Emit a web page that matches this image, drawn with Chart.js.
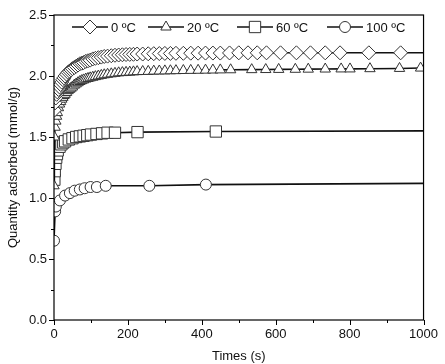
<!DOCTYPE html>
<html>
<head>
<meta charset="utf-8">
<script src="https://cdn.jsdelivr.net/npm/chart.js@4"></script>
<style>
  html, body { margin: 0; padding: 0; background: #fff; }
  #wrap { width: 445px; height: 364px; }
</style>
</head>
<body>
<div id="wrap"><canvas id="chart" width="445" height="364"></canvas></div>
<script>
// times (s) and quantity adsorbed (mmol/g)
var t0 = [1,3,5,7,9,12,15,18,21,24,27,30,34,38,42,46,50,55,60,65,70,75,80,86,92,98,105,112,120,128,136,145,155,165,175,185,195,205,215,225,240,255,270,285,300,315,330,350,370,390,410,430,450,475,500,525,550,575,613,656,694,734,774,852,938,1000];
var q0 = [1.72,1.78,1.82,1.85,1.87,1.89,1.91,1.93,1.95,1.97,1.985,2.00,2.015,2.03,2.04,2.05,2.06,2.07,2.08,2.09,2.10,2.105,2.11,2.12,2.125,2.13,2.14,2.145,2.15,2.155,2.16,2.163,2.166,2.17,2.172,2.174,2.176,2.177,2.178,2.18,2.18,2.182,2.183,2.184,2.185,2.185,2.186,2.186,2.187,2.187,2.188,2.188,2.188,2.189,2.19,2.19,2.19,2.19,2.19,2.19,2.19,2.19,2.19,2.19,2.19,2.19];

var t20 = [0,1,3,5,7,9,12,15,18,21,24,27,30,34,38,42,46,50,55,60,65,70,75,80,86,92,98,105,112,120,128,136,145,155,165,175,185,195,205,215,225,240,255,270,285,300,315,330,350,370,390,410,430,450,478,535,573,608,653,688,734,777,801,855,935,992];
var q20 = [1.10,1.50,1.58,1.63,1.67,1.70,1.74,1.77,1.79,1.81,1.825,1.84,1.85,1.865,1.88,1.89,1.90,1.91,1.925,1.935,1.945,1.955,1.962,1.968,1.975,1.98,1.985,1.99,1.995,2.00,2.005,2.01,2.014,2.018,2.022,2.026,2.028,2.03,2.032,2.034,2.036,2.037,2.038,2.04,2.041,2.042,2.043,2.044,2.045,2.046,2.047,2.048,2.049,2.05,2.051,2.052,2.053,2.054,2.055,2.056,2.057,2.058,2.058,2.06,2.062,2.065];

var t60 = [1,2,4,6,8,10,15,20,25,30,40,50,60,70,80,90,100,115,130,145,165,226,438,1000];
var q60 = [1.15,1.22,1.28,1.33,1.36,1.39,1.42,1.44,1.455,1.465,1.48,1.49,1.50,1.505,1.51,1.515,1.52,1.525,1.53,1.535,1.535,1.54,1.545,1.55];

var t100 = [0,3,5,16,30,43,56,70,83,99,116,140,258,411,1000];
var q100 = [0.65,0.89,0.93,0.98,1.02,1.04,1.06,1.07,1.08,1.09,1.09,1.10,1.10,1.11,1.12];

var seriesNames = ["0 \u00baC", "20 \u00baC", "60 \u00baC", "100 \u00baC"];
var seriesStyles = ["rectRot", "triangle", "rect", "circle"];
var seriesRadius = [7, 6, 8, 5.5];

var xTicks = [0, 200, 400, 600, 800, 1000];
var yTicks = [0.0, 0.5, 1.0, 1.5, 2.0, 2.5];

var FONT = '"Liberation Sans", Arial, sans-serif';

function pts(t, q) {
  return t.map(function (v, i) { return {x: v, y: q[i]}; });
}

function makeSet(i, t, q) {
  var r = seriesRadius[i];
  return {
    label: seriesNames[i],
    data: pts(t, q),
    borderColor: '#111',
    borderWidth: 1.6,
    pointStyle: seriesStyles[i],
    pointBackgroundColor: '#fff',
    pointBorderColor: '#333',
    pointBorderWidth: 1,
    // last sample at 1000 s has no marker for the curves that stop short
    pointRadius: function (ctx) {
      if (i !== 1 && ctx.dataIndex === t.length - 1) return 0;
      return r;
    },
    tension: 0
  };
}

var frameAndTicks = {
  id: 'frameAndTicks',
  afterDraw: function (chart) {
    var c = chart.ctx, a = chart.chartArea;
    var xs = chart.scales.x, ys = chart.scales.y;
    c.save();
    c.strokeStyle = '#000';
    c.lineWidth = 1.2;
    c.strokeRect(a.left, a.top, a.right - a.left, a.bottom - a.top);
    c.lineWidth = 1;
    c.beginPath();
    for (var v = 0; v <= 1000; v += 100) {
      var px = Math.round(xs.getPixelForValue(v)) + 0.5;
      var len = (v % 200 === 0) ? 5 : 3;
      c.moveTo(px, a.bottom);
      c.lineTo(px, a.bottom + len);
    }
    for (var w = 0; w <= 2.5001; w += 0.25) {
      var py = Math.round(ys.getPixelForValue(w)) + 0.5;
      var l2 = (Math.abs(w * 2 - Math.round(w * 2)) < 1e-6) ? 5 : 3;
      c.moveTo(a.left, py);
      c.lineTo(a.left - l2, py);
    }
    c.stroke();

    // legend inside the plot
    var lx = [72, 148, 237, 327];
    var ly = a.top + 12;
    c.font = '13px ' + FONT;
    c.textBaseline = 'middle';
    for (var i = 0; i < 4; i++) {
      c.strokeStyle = '#111';
      c.lineWidth = 1.6;
      c.beginPath();
      c.moveTo(lx[i], ly);
      c.lineTo(lx[i] + 36, ly);
      c.stroke();
      c.fillStyle = '#fff';
      c.strokeStyle = '#333';
      c.lineWidth = 1;
      Chart.helpers.drawPoint(c, {pointStyle: seriesStyles[i], radius: seriesRadius[i], rotation: 0, borderWidth: 1}, lx[i] + 18, ly);
      c.fillStyle = '#111';
      c.fillText(seriesNames[i], lx[i] + 39, ly + 1);
    }
    c.restore();
  }
};

new Chart(document.getElementById('chart').getContext('2d'), {
  type: 'line',
  data: {
    datasets: [
      makeSet(0, t0, q0),
      makeSet(1, t20, q20),
      makeSet(2, t60, q60),
      makeSet(3, t100, q100)
    ]
  },
  options: {
    responsive: false,
    animation: false,
    layout: {padding: {top: 15, right: 19, left: 0, bottom: 0}},
    plugins: {legend: {display: false}, tooltip: {enabled: false}},
    scales: {
      x: {
        type: 'linear',
        min: 0, max: 1000,
        afterBuildTicks: function (s) { s.ticks = xTicks.map(function (v) { return {value: v}; }); },
        afterFit: function (s) { s.height = 44; },
        grid: {display: false, drawTicks: false},
        border: {display: false},
        ticks: {color: '#111', padding: 7, maxRotation: 0, font: {size: 13, family: FONT},
          callback: function (v) { return String(v); }},
        title: {display: true, text: 'Times (s)', color: '#111', padding: {top: 1, bottom: 0}, font: {size: 13, family: FONT}}
      },
      y: {
        min: 0, max: 2.5,
        afterBuildTicks: function (s) { s.ticks = yTicks.map(function (v) { return {value: v}; }); },
        afterFit: function (s) { s.width = 54; },
        grid: {display: false, drawTicks: false},
        border: {display: false},
        ticks: {color: '#111', padding: 7, font: {size: 13, family: FONT},
          callback: function (v) { return v.toFixed(1); }},
        title: {display: true, text: 'Quantity adsorbed (mmol/g)', color: '#111', padding: {top: 6, bottom: 0}, font: {size: 13, family: FONT}}
      }
    }
  },
  plugins: [frameAndTicks]
});
</script>
</body>
</html>
